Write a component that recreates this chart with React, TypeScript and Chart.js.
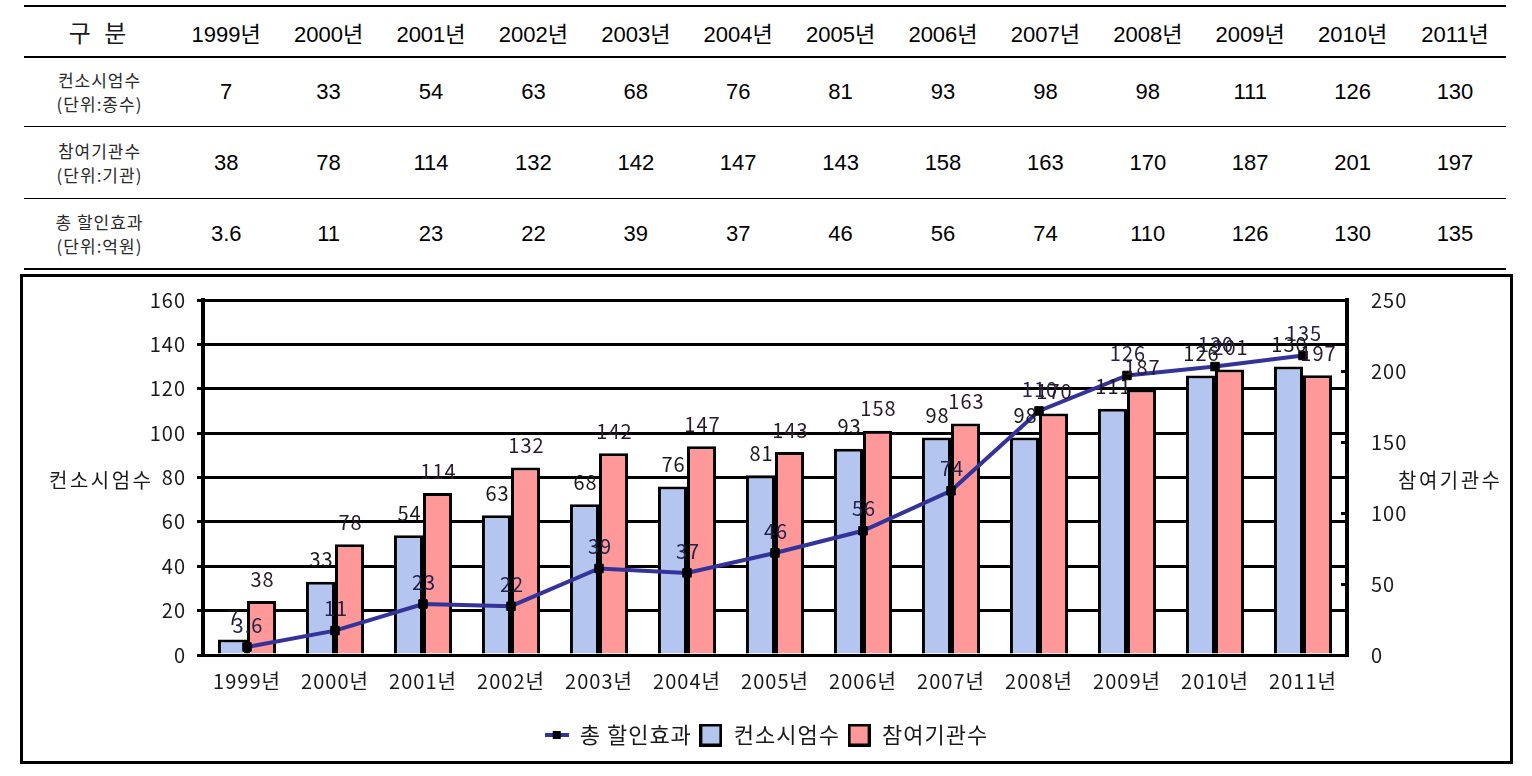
import React, { useEffect, useRef } from 'react';
import { Chart, registerables } from 'chart.js';

Chart.register(...registerables);

// ---------- data ----------
const years = ['1999년', '2000년', '2001년', '2002년', '2003년', '2004년', '2005년', '2006년', '2007년', '2008년', '2009년', '2010년', '2011년'];
const consortia = [7, 33, 54, 63, 68, 76, 81, 93, 98, 98, 111, 126, 130];
const institutions = [38, 78, 114, 132, 142, 147, 143, 158, 163, 170, 187, 201, 197];
const discount = [3.6, 11, 23, 22, 39, 37, 46, 56, 74, 110, 126, 130, 135];

const seriesNames = ['총 할인효과', '컨소시엄수', '참여기관수'];
const rowLabels = [
  ['컨소시엄수', '(단위:종수)'],
  ['참여기관수', '(단위:기관)'],
  ['총 할인효과', '(단위:억원)'],
];
const tableHeader = '구 분';
const leftAxisTitle = '컨소시엄수';
const rightAxisTitle = '참여기관수';
const leftMax = 160;
const leftStep = 20;
const rightMax = 250;
const rightStep = 50;

// ---------- styles ----------
const FONT = "'Noto Sans CJK KR', 'Noto Sans', sans-serif";
const TABLE_FONT = "'Liberation Sans', Arial, 'Noto Sans CJK KR', sans-serif";
const LINE_COLOR = '#333399';
const BLUE = '#B4C6F0';
const PINK = '#FF9999';
const TEXT = '#1a1a1a';
const FS = 20;
const LEGEND_FS = 22;

function makeIcon(kind: 'line' | 'blue' | 'pink'): HTMLCanvasElement {
  const c = document.createElement('canvas');
  if (kind === 'line') {
    c.width = 24;
    c.height = 10;
    const g = c.getContext('2d')!;
    g.fillStyle = LINE_COLOR;
    g.fillRect(0, 3, 24, 4);
    g.fillStyle = '#000';
    g.fillRect(8, 1, 8, 8);
  } else {
    c.width = 23;
    c.height = 23;
    const g = c.getContext('2d')!;
    g.fillStyle = '#000';
    g.fillRect(0, 0, 23, 23);
    g.fillStyle = kind === 'blue' ? BLUE : PINK;
    g.fillRect(3, 3, 17, 17);
  }
  return c;
}

const spacingPlugin = {
  id: 'letterSpacing',
  beforeUpdate(chart: any) {
    chart.ctx.letterSpacing = '1px';
  },
  beforeDraw(chart: any) {
    chart.ctx.letterSpacing = '1px';
  },
};

const valueLabelPlugin = {
  id: 'valueLabels',
  afterDatasetsDraw(chart: any) {
    const ctx = chart.ctx;
    ctx.save();
    ctx.font = `${FS}px ${FONT}`;
    ctx.textAlign = 'center';
    ctx.textBaseline = 'middle';
    const colors = ['#22224a', '#1a1a1a', '#2a1a2a'];
    chart.data.datasets.forEach((ds: any, i: number) => {
      const meta = chart.getDatasetMeta(i);
      meta.data.forEach((el: any, j: number) => {
        ctx.fillStyle = colors[i];
        ctx.fillText(String(ds.data[j]), el.x + 1, el.y - 22);
      });
    });
    ctx.restore();
  },
};

const axisExtrasPlugin = {
  id: 'axisExtras',
  afterDraw(chart: any) {
    const ctx = chart.ctx;
    const area = chart.chartArea;
    const yL = chart.scales.y;
    const yR = chart.scales.y1;
    ctx.save();
    // inner tick marks of right axis
    ctx.strokeStyle = '#000';
    ctx.lineWidth = 3;
    yR.ticks.forEach((t: any) => {
      if (t.value <= 0 || t.value >= rightMax) return;
      const py = Math.round(yR.getPixelForValue(t.value)) + 0.5;
      ctx.beginPath();
      ctx.moveTo(area.right - 6, py);
      ctx.lineTo(area.right + 2, py);
      ctx.stroke();
    });
    // horizontal axis titles
    ctx.letterSpacing = '2.5px';
    ctx.font = `${FS}px ${FONT}`;
    ctx.fillStyle = TEXT;
    ctx.textBaseline = 'middle';
    ctx.textAlign = 'left';
    const ty = yL.getPixelForValue(80) + 3;
    ctx.fillText(leftAxisTitle, area.left - 154, ty);
    ctx.fillText(rightAxisTitle, area.right + 51, ty);
    ctx.restore();
  },
};

function ChartBox() {
  const ref = useRef<HTMLCanvasElement>(null);
  useEffect(() => {
    if (!ref.current) return;
    const icons = [makeIcon('line'), makeIcon('blue'), makeIcon('pink')];
    const tickFont = { size: FS, family: FONT };
    const chart = new Chart(ref.current, {
      type: 'bar',
      data: {
        labels: years,
        datasets: [
          {
            type: 'line',
            label: seriesNames[0],
            data: discount,
            yAxisID: 'y',
            borderColor: LINE_COLOR,
            borderWidth: 4,
            pointStyle: 'rect',
            pointRadius: 6,
            pointBackgroundColor: '#000',
            pointBorderColor: '#000',
            pointBorderWidth: 1,
            tension: 0,
            fill: false,
            order: 0,
          } as any,
          {
            type: 'bar',
            label: seriesNames[1],
            data: consortia,
            yAxisID: 'y',
            backgroundColor: BLUE,
            borderColor: '#000',
            borderWidth: 3,
            borderSkipped: 'bottom',
            categoryPercentage: 0.66,
            barPercentage: 1.0,
            order: 1,
          },
          {
            type: 'bar',
            label: seriesNames[2],
            data: institutions,
            yAxisID: 'y1',
            backgroundColor: PINK,
            borderColor: '#000',
            borderWidth: 3,
            borderSkipped: 'bottom',
            categoryPercentage: 0.66,
            barPercentage: 1.0,
            order: 2,
          },
        ],
      },
      options: {
        responsive: false,
        animation: false,
        events: [],
        layout: { padding: { top: 22, bottom: 5, left: 0, right: 0 } },
        plugins: {
          tooltip: { enabled: false },
          legend: {
            position: 'bottom',
            labels: {
              usePointStyle: true,
              pointStyleWidth: 24,
              boxHeight: LEGEND_FS,
              padding: 7,
              color: TEXT,
              font: { size: LEGEND_FS, family: FONT },
              generateLabels: (c: any) =>
                c.data.datasets.map((ds: any, i: number) => ({
                  text: ds.label,
                  pointStyle: icons[i],
                  fillStyle: '#000',
                  strokeStyle: '#000',
                  lineWidth: 0,
                  hidden: false,
                  datasetIndex: i,
                  fontColor: TEXT,
                })),
            },
          },
        },
        scales: {
          x: {
            type: 'category',
            offset: true,
            grid: { display: false, drawTicks: false },
            border: { display: false },
            ticks: { padding: 14, font: tickFont, color: TEXT, maxRotation: 0, autoSkip: false },
            afterFit: (s: any) => {
              s.height = 62;
            },
          },
          y: {
            position: 'left',
            min: 0,
            max: leftMax,
            ticks: { stepSize: leftStep, padding: 11, font: tickFont, color: TEXT },
            grid: { color: '#000', lineWidth: 3, tickLength: 6 },
            border: { display: true, color: '#000', width: 4 },
            afterFit: (s: any) => {
              s.width = 180;
            },
          },
          y1: {
            position: 'right',
            min: 0,
            max: rightMax,
            ticks: { stepSize: rightStep, padding: 0, font: tickFont, color: TEXT },
            grid: {
              display: true,
              drawOnChartArea: false,
              drawTicks: true,
              tickLength: 24,
              tickColor: 'rgba(0,0,0,0)',
              color: '#000',
              lineWidth: 3,
            },
            border: { display: true, color: '#000', width: 4 },
            afterFit: (s: any) => {
              s.width = 163;
            },
          },
        },
      } as any,
      plugins: [spacingPlugin, valueLabelPlugin, axisExtrasPlugin],
    });
    return () => chart.destroy();
  }, []);
  return <canvas ref={ref} width={1487} height={484} style={{ display: 'block' }} />;
}

function DataTable() {
  const left = 24;
  const labelW = 151;
  const colW = 102.4;
  const right = left + labelW + colW * years.length;
  const lines = [
    { y: 5, h: 2 },
    { y: 56, h: 2 },
    { y: 126, h: 1 },
    { y: 198, h: 1 },
    { y: 268, h: 2 },
  ];
  const rows = [
    { top: 58, h: 68 },
    { top: 127, h: 71 },
    { top: 199, h: 69 },
  ];
  const seriesRows = [consortia, institutions, discount];
  const cell = (l: number, t: number, w: number, h: number): React.CSSProperties => ({
    position: 'absolute',
    left: l,
    top: t,
    width: w,
    height: h,
    display: 'flex',
    alignItems: 'center',
    justifyContent: 'center',
    textAlign: 'center',
  });
  return (
    <>
      {lines.map((ln, i) => (
        <div key={'l' + i} style={{ position: 'absolute', left, top: ln.y, width: right - left, height: ln.h, background: '#000' }} />
      ))}
      <div style={{ ...cell(left, 7, labelW, 49), fontFamily: FONT, fontSize: 24, letterSpacing: 4, color: TEXT }}>{tableHeader}</div>
      {years.map((y, i) => (
        <div key={'h' + i} style={{ ...cell(left + labelW + colW * i, 7, colW, 49), fontFamily: TABLE_FONT, fontSize: 22, color: '#000' }}>{y}</div>
      ))}
      {rows.map((r, ri) => (
        <React.Fragment key={'r' + ri}>
          <div style={{ ...cell(left, r.top, labelW, r.h), flexDirection: 'column', fontFamily: FONT, fontSize: 17, lineHeight: '24px', letterSpacing: 1, color: '#2a2a2a' }}>
            <div>{rowLabels[ri][0]}</div>
            <div>{rowLabels[ri][1]}</div>
          </div>
          {seriesRows[ri].map((v, i) => (
            <div key={'v' + ri + '-' + i} style={{ ...cell(left + labelW + colW * i, r.top, colW, r.h), fontFamily: TABLE_FONT, fontSize: 22, color: '#000' }}>{String(v)}</div>
          ))}
        </React.Fragment>
      ))}
    </>
  );
}

export default function App() {
  return (
    <div style={{ position: 'absolute', left: 0, top: 0, width: 1532, height: 776, background: '#fff', overflow: 'hidden' }}>
      <DataTable />
      <div style={{ position: 'absolute', left: 20, top: 274, width: 1487, height: 484, border: '3px solid #000', background: '#fff' }}>
        <ChartBox />
      </div>
    </div>
  );
}
